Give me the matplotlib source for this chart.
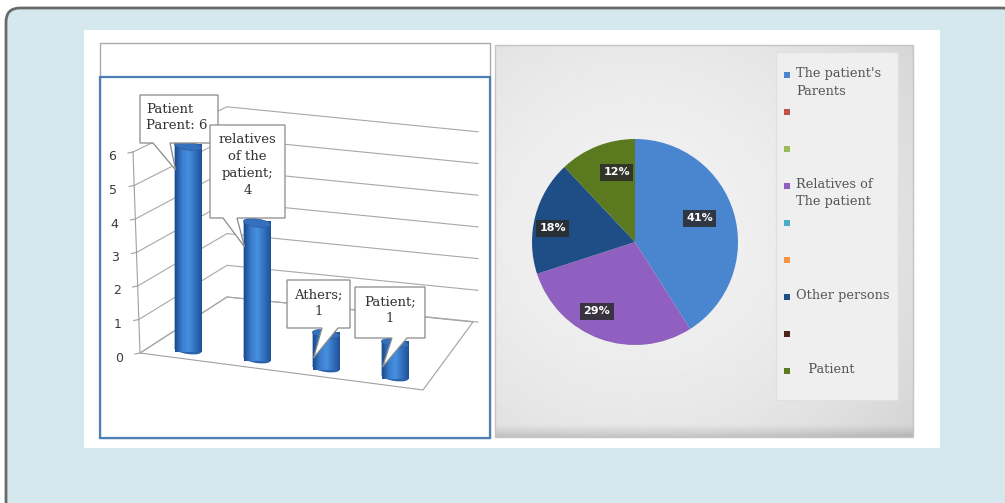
import numpy as np
import matplotlib
matplotlib.use('Agg')
import matplotlib.pyplot as plt
from matplotlib import patches, transforms
from matplotlib.colors import LinearSegmentedColormap

W, H = 1005, 503

# bar chart: who brought the patient
bar_cats = ['Patient Parent', 'relatives of the patient', 'Athers', 'Patient']
bar_vals = [6, 4, 1, 1]
bar_notes = ['Patient\nParent: 6', 'relatives\nof the\npatient;\n4', 'Athers;\n1', 'Patient;\n1']
y_ticks = [0, 1, 2, 3, 4, 5, 6]

# pie chart: share of each group (empty legend rows have no slice)
pie_names = ["The patient's\nParents", '', '', 'Relatives of\nThe patient', '', '',
             'Other persons', '', '   Patient']
pie_pct = [41, 0, 0, 29, 0, 0, 18, 0, 12]
pie_cols = ['#4a86d0', '#c0504d', '#9bbb59', '#8f60c0', '#4bacc6', '#f79646',
            '#1f4d85', '#4a2418', '#5b7a20']
# where the % boxes sit: fraction of radius, turn from slice middle (deg)
pct_dist = [0.67, 0.77, 0.81, 0.70]
pct_turn = [4, -9, 5, -7]

serif = 'DejaVu Serif'

fig = plt.figure(figsize=(W / 100, H / 100), dpi=100, facecolor='white')
bg = fig.add_axes([0, 0, 1, 1])
bg.axis('off')

# outer card + white panel
bg.add_patch(patches.FancyBboxPatch((6, 8), 1010, 520, boxstyle='round,pad=0,rounding_size=14',
                                    fc='#d5e8ee', ec='#6a6a6a', lw=2, zorder=0))
bg.add_patch(patches.Rectangle((84, 30), 856, 418, fc='white', ec='none', zorder=0.5))

# left chart frame
bg.add_patch(patches.Rectangle((100, 43), 390, 395, fc='white', ec='#a9a9a9', lw=1, zorder=1))
bg.add_patch(patches.Rectangle((100, 77), 390, 361, fc='none', ec='#4f7fb8', lw=1.6, zorder=1.1))

# --- 3-D looking column chart ---
# (category index, value) -> pixel position on the sloping floor
proj = transforms.Affine2D.from_values(69, 9, 0, -34, 188, 350)
to_disp = proj + bg.transData

floor = [(140, 353), (227, 297), (473, 322), (423, 390)]
bg.add_patch(patches.Polygon(floor, closed=True, fc='white', ec='#a0a0a0', lw=0.8, zorder=1.5))
bg.plot([140, 133], [353, 152], color='#a0a0a0', lw=0.8, zorder=1.6)
for v in y_ticks:
    fx, fy = 140 - 1.17 * v, 353 - 33.5 * v
    by = 297 - 31.7 * v
    bg.plot([fx, 227, 478], [fy, by, by + 25], color='#a8a8a8', lw=0.8, zorder=1.6)
    bg.plot([fx - 5, fx], [fy + 1, fy], color='#a0a0a0', lw=0.8, zorder=1.6)
    bg.text(fx - 21, fy + 5, str(v), ha='center', va='center', fontsize=9,
            color='#3a3a3a', zorder=2)

cyl = LinearSegmentedColormap.from_list('cyl', ['#1c4a8c', '#3a7ccd', '#4890e0', '#3170bd', '#1f5098'])
grad = np.linspace(0, 1, 64)[None, :]
bw = 0.39
xs = np.arange(len(bar_vals))
bars = bg.bar(xs, bar_vals, width=bw, transform=to_disp, color='#3574c2', lw=0, zorder=3)
for i, (rect, v) in enumerate(zip(bars, bar_vals)):
    bg.add_patch(patches.Ellipse((i, 0), bw, 0.24, transform=to_disp, fc='#2c63ab', ec='none', zorder=2.9))
    (x0, y0), (x1, y1) = proj.transform([(i - bw / 2, 0), (i + bw / 2, v)])
    im = bg.imshow(grad, cmap=cyl, extent=(x0, x1, y0 + 10, y1 - 10), aspect='auto', zorder=3.05)
    im.set_clip_path(rect)
    bg.add_patch(patches.Ellipse((i, v), bw, 0.24, transform=to_disp, fc='#3470bb',
                                 ec='#2a5da0', lw=0.5, zorder=3.2))

# callout labels: box (x0, y0, x1, y1) and tail base on the bottom edge
boxes = [(140, 95, 218, 143, 153, 170), (210, 125, 285, 218, 223, 237),
         (287, 280, 350, 328, 322, 338), (355, 287, 425, 338, 392, 407)]
for k, (note, v, box) in enumerate(zip(bar_notes, bar_vals, boxes)):
    x0, y0, x1, y1, bl, br = box
    tip = proj.transform((k - 0.18, v - 0.75))
    verts = [(x0, y0), (x1, y0), (x1, y1), (br, y1), tuple(tip), (bl, y1), (x0, y1)]
    z = 5 + k
    bg.add_patch(patches.Polygon(verts, closed=True, fc='white', ec='#8a8a8a', lw=0.9, zorder=z))
    if k == 0:
        bg.text(x0 + 6, y0 + 8, note, ha='left', va='top', fontsize=9.5, family=serif,
                color='#333333', linespacing=1.3, zorder=z + 0.1)
    else:
        bg.text((x0 + x1) / 2, y0 + 8, note, ha='center', va='top', fontsize=9.5, family=serif,
                color='#333333', linespacing=1.4, zorder=z + 0.1)

# --- pie panel background: light grey, a bit darker toward the edges ---
gx, gy = np.meshgrid(np.linspace(495, 913, 200), np.linspace(45, 437, 200))
d2 = ((gx - 640) / 230) ** 2 + ((gy - 230) / 220) ** 2
shade = np.clip(0.945 - 0.05 * d2, 0.8, 1)
shade -= 0.12 * np.clip((gy - 426) / 11, 0, 1)
bg.imshow(shade, cmap='gray', vmin=0, vmax=1, extent=(495, 913, 437, 45), aspect='auto', zorder=1)
bg.add_patch(patches.Rectangle((495, 45), 418, 392, fc='none', ec='#c4c4c4', lw=1, zorder=1.2))

# legend
bg.add_patch(patches.Rectangle((776, 52), 122, 348, fc='#efefef', ec='#e0e0e0', lw=1, zorder=1.3))
for k, (name, col) in enumerate(zip(pie_names, pie_cols)):
    y = 75 + 37 * k
    bg.add_patch(patches.Rectangle((784, y - 3), 6, 6, fc=col, ec='none', zorder=1.4))
    bg.text(796, y - 8, name, ha='left', va='top', fontsize=9.3, family=serif,
            color='#555555', linespacing=1.45, zorder=1.4)

bg.set_xlim(0, W)
bg.set_ylim(H, 0)

# --- pie ---
r = 103
pax = fig.add_axes([(635 - r) / W, (H - 242 - r) / H, 2 * r / W, 2 * r / H])
vals = [p for p in pie_pct if p > 0]
cols = [c for c, p in zip(pie_cols, pie_pct) if p > 0]
wedges, _, autotexts = pax.pie(vals, colors=cols, startangle=90, counterclock=False,
                               autopct='%.0f%%', wedgeprops=dict(linewidth=0),
                               textprops=dict(color='white', fontsize=8, fontweight='bold'))
for w, t, dist, turn in zip(wedges, autotexts, pct_dist, pct_turn):
    ang = np.deg2rad((w.theta1 + w.theta2) / 2 + turn)
    t.set_position((dist * np.cos(ang), dist * np.sin(ang)))
    t.set_bbox(dict(boxstyle='square,pad=0.3', fc='#2a2a2a', ec='none', alpha=0.85))
pax.set_xlim(-1, 1)
pax.set_ylim(-1, 1)

fig.savefig('out.png', dpi=100)
